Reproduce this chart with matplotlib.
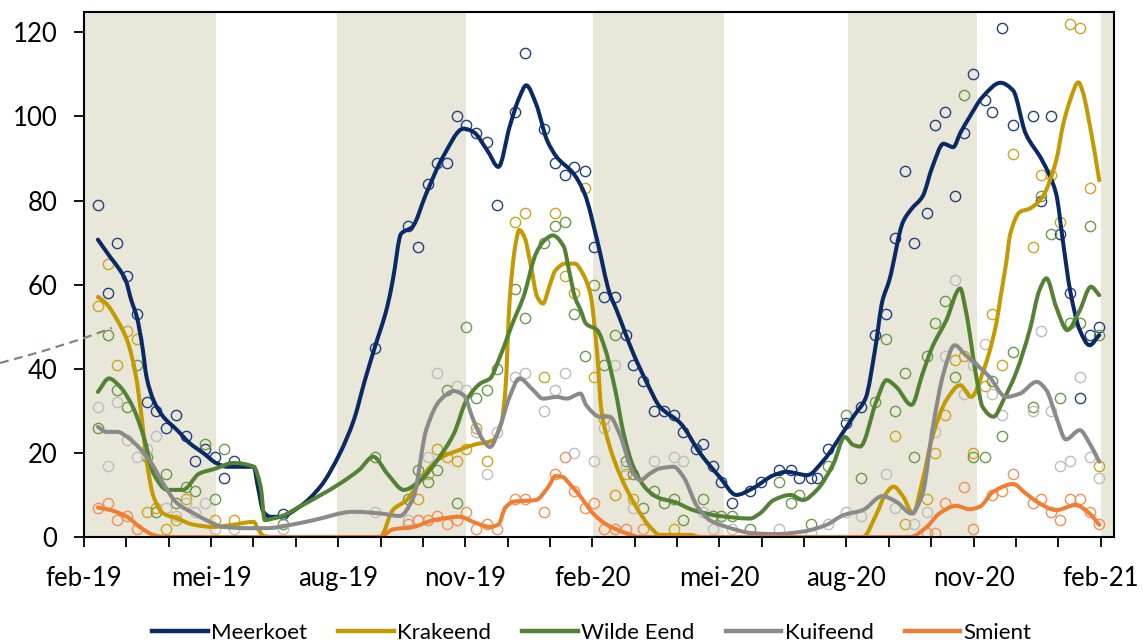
import numpy as np
import pandas as pd
import matplotlib
matplotlib.use('Agg')
import matplotlib.pyplot as plt
import matplotlib.dates as mdates
from matplotlib.lines import Line2D
from matplotlib.path import Path
from matplotlib.patches import PathPatch

plt.rcParams['font.family'] = ['Lato', 'DejaVu Sans']

START = pd.Timestamp('2019-02-01')

### DATA ###

# counting days (days after 1 feb 2019); None = no count shown for that species
sample_days = [10, 17, 24, 31, 38, 45, 52, 59, 66, 73,
               80, 87, 94, 101, 108, 143, 209, 233, 240, 247,
               254, 261, 268, 275, 282, 290, 297, 310, 317, 331,
               339, 346, 352, 360, 367, 374, 382, 390, 395, 402,
               410, 417, 424, 431, 440, 445, 452, 458, 466, 479,
               487, 500, 508, 514, 523, 527, 535, 548, 559, 569,
               577, 583, 590, 597, 606, 612, 619, 626, 633, 639,
               648, 653, 660, 668, 682, 688, 695, 702, 709, 716,
               723, 730]

meerkoet = [79, 58, 70, 62, 53, 32, 30, 26, 29, 24,
            18, 21, 19, 14, 18, 5.5, 45, 74, 69, 84,
            89, 89, 100, 98, 96, 94, 79, 101, 115, 97,
            89, 86, 88, 87, 69, 57, 57, 48, 41, 37,
            30, 30, 29, 25, 21, 22, 17, 13, 8, 11,
            13, 16, 16, 14, 14, 14, 21, 27, 31, 48,
            53, 71, 87, 70, 77, 98, 101, 81, 96, 110,
            104, 101, 121, 98, 100, 80, 100, 72, 58, 33,
            48, 50]

krakeend = [55, 65, 41, 49, 47, 6, 7, 2, 4, 9,
            None, None, 4, None, 4, None, None, None, 9, 15,
            21, 19, 18, 21, 26, 18, None, 75, 77, 38,
            77, 62, 58, 83, 38, 28, 10, 15, 9, None,
            None, None, 2, None, None, None, None, None, None, None,
            None, None, None, None, None, None, None, None, None, None,
            None, 24, 3, None, 9, 20, 29, 42, 43, 20,
            36, 53, 41, 91, 69, 86, 86, 75, 122, 121,
            83, 17]

wilde_eend = [26, 48, 35, 31, 41, 19, 6, 15, 8, 12,
              11, 22, 9, 21, None, 3, 19, 9, 16, 13,
              16, 35, 8, 50, 33, 35, 40, 59, 52, 70,
              74, 75, 53, 43, 60, 41, 48, 18, 15, 7,
              11, 8, 9, 4, None, 9, 5, 5, 5, 2,
              None, 13, 8, 10, 3, None, 17, 29, 14, 32,
              47, 30, 39, 19, 43, 51, 56, 38, 105, 19,
              19, 37, 24, 44, 31, 81, 72, 33, 51, 51,
              74, 48]

kuifeend = [31, 17, 32, 23, 19, 21, 24, 7, 5, 8,
            6, 8, 2, None, 2, 2, 6, 4, 4, 19,
            39, None, 36, 35, 25, 15, 25, 38, 39, 30,
            35, 39, 20, None, 18, 26, 41, 17, 7, None,
            18, None, 19, 18, None, 6, 2, None, 2, None,
            None, 2, None, None, 1, None, 3, 6, 5, None,
            15, 7, None, 3, 6, 25, 43, 61, 34, 41,
            46, 34, 29, None, 30, 49, 30, 17, 18, 38,
            19, 14]

smient = [7, 8, 4, 5, 2, None, None, None, None, None,
          None, None, None, None, None, None, None, 3, 4, 4,
          5, 3, 4, 6, 2, 3, 2, 9, 9, 6,
          15, 19, 11, 7, 8, 2, 2, 2, None, 2,
          None, None, None, None, None, None, None, None, None, None,
          None, None, None, None, None, None, None, None, None, None,
          None, None, None, None, 1, 1, 8, None, 12, 2,
          None, 10, 11, 15, 8, 9, 6, 4, 9, 9,
          6, 3]

# smoothed trend per species as (day, value) nodes
meerkoet_line_days = [10, 19, 26, 30, 34, 38, 42, 45, 50, 57, 67, 76, 86, 95, 103, 112, 122, 125, 129, 134,
                      141, 155, 170, 184, 194, 202, 209, 218, 222, 228, 236, 246, 258, 273, 280, 290, 298, 306, 313, 318,
                      325, 333, 340, 352, 360, 369, 378, 383, 395, 405, 414, 429, 443, 457, 469, 481, 496, 505, 520, 532,
                      546, 554, 562, 569, 574, 579, 589, 595, 603, 610, 618, 625, 630, 637, 646, 659, 668, 677, 689, 699,
                      704, 709, 716, 723, 730]
meerkoet_line = [70.7, 66.5, 63.4, 61, 56.3, 52.3, 45.2, 38, 32.5, 28.6, 25.4, 22.3, 19.9, 17.6, 16.7, 16.7, 16.7, 12, 6, 4.8,
                 4.8, 7.2, 12, 19.9, 27.8, 37.3, 45, 54.7, 61, 72.1, 73.7, 81.6, 90.3, 97.1, 96.3, 91.9, 88, 97.5, 104.5, 107.4,
                 103, 94.3, 90.3, 86.4, 81.6, 70.5, 57.9, 53.9, 43.6, 36.5, 31, 27, 19.9, 14.3, 10, 11.6, 14.7, 15.5, 14.7, 18.3,
                 25, 29, 33, 45, 56, 61, 75, 78, 81, 88, 93.5, 92.7, 96, 100, 104.6, 108, 106.2, 96, 89.5, 81.6,
                 70, 58.7, 49.2, 45.6, 48]

krakeend_line_days = [10, 16, 24, 31, 37, 42, 45, 50, 57, 67, 79, 93, 107, 122, 125, 129, 134, 213, 222, 232,
                      239, 249, 258, 270, 280, 294, 300, 303, 306, 310, 313, 317, 321, 326, 330, 335, 339, 346, 353, 358,
                      364, 369, 372, 376, 385, 397, 407, 414, 436, 443, 560, 570, 576, 582, 589, 596, 603, 610, 620, 630,
                      638, 646, 656, 659, 663, 666, 673, 680, 689, 699, 704, 709, 715, 718, 723, 730]
krakeend_line = [57.1, 55.5, 51.5, 46.8, 38.9, 27, 18.3, 9.6, 5.6, 4.4, 2.9, 2.4, 2.9, 3.6, 2, 0.3, 0, 0, 6.4, 8.8,
                 12, 16.7, 19.1, 20.7, 21.9, 23, 27, 35, 56, 69, 73, 71, 65, 57, 55.5, 60, 63.4, 65, 65, 63,
                 57.9, 43.6, 30.2, 23.8, 15.1, 7.2, 2.4, 0.5, 0.5, 0, 0, 5.6, 10, 12, 9.6, 5.6, 13.5, 23.8, 32.5, 36.1,
                 33.3, 38.9, 50.8, 57, 65, 72, 77.3, 78.1, 80.8, 89.5, 98, 103.8, 108.1, 106, 98.3, 84.8]

wilde_eend_line_days = [10, 18, 26, 35, 43, 50, 60, 71, 83, 95, 107, 122, 127, 130, 136, 141, 155, 184, 198, 208,
                        218, 230, 242, 254, 266, 275, 285, 292, 299, 309, 316, 325, 331, 337, 345, 349, 353, 357, 361, 369,
                        375, 382, 388, 395, 405, 414, 424, 438, 457, 479, 486, 496, 508, 517, 527, 539, 547, 553, 558, 570,
                        577, 584, 595, 603, 610, 620, 630, 634, 642, 646, 654, 661, 670, 680, 687, 692, 699, 707, 716, 724,
                        730]
wilde_eend_line = [34.5, 37.7, 35.7, 31, 23.8, 15.1, 11.2, 11.2, 15.1, 16.3, 17.6, 16.7, 12, 4, 4.4, 4.8, 7.2, 12.7, 16, 19.1,
                   15.1, 11.2, 13.5, 18.3, 24.6, 32.5, 36.5, 37.7, 42.8, 51.5, 57.1, 67.4, 70.5, 71.7, 69, 63, 57, 54, 50.7, 49.2,
                   44.4, 34.9, 24.6, 16.7, 11.2, 9.2, 8.4, 6.4, 5, 4.4, 5.6, 8.8, 10, 8.8, 11.2, 17.5, 23.8, 21.9, 21.5, 32.5,
                   37.3, 35.7, 31.4, 38.9, 45.2, 51.5, 59.1, 53.9, 37.3, 31, 28.6, 32.5, 38.9, 49.2, 58.7, 61.5, 54.7, 49.2, 53.9, 59.5,
                   57.5]

kuifeend_line_days = [10, 16, 24, 31, 40, 47, 57, 67, 79, 88, 100, 117, 131, 155, 165, 194, 213, 227, 237, 246,
                      256, 266, 273, 280, 287, 292, 299, 306, 313, 323, 330, 340, 347, 357, 361, 371, 378, 385, 395, 400,
                      407, 414, 424, 431, 441, 450, 462, 481, 498, 517, 534, 546, 560, 574, 584, 595, 603, 610, 618, 626,
                      634, 642, 651, 663, 673, 685, 692, 699, 706, 716, 723, 730]
kuifeend_line = [26.2, 25, 25, 23.8, 21.1, 18.3, 12.7, 8, 5.6, 4, 2.4, 2.1, 2.1, 3.3, 4, 6, 5.6, 5, 9.6, 25.4,
                 32.5, 34.7, 33.7, 27.8, 23, 21.4, 26.2, 33.3, 37.7, 34.9, 32.9, 33.3, 32.9, 34.1, 31.4, 28.6, 28.6, 24.6, 15.1, 13.5,
                 15.1, 16.3, 16.7, 14.3, 7.2, 4, 2.4, 0.9, 0.7, 1.3, 2.9, 5.2, 6.4, 9.7, 8.4, 5.6, 10.4, 25.4, 38.9, 45.6,
                 43.2, 40.9, 38.1, 33.3, 34.1, 36.9, 34.9, 28.6, 23.2, 25.4, 22.3, 17.9]

smient_line_days = [10, 19, 31, 40, 50, 58, 213, 222, 237, 251, 270, 282, 292, 298, 303, 309, 325, 334, 339, 344,
                    349, 357, 366, 376, 390, 400, 594, 606, 615, 627, 637, 644, 654, 668, 677, 687, 699, 713, 723, 730]
smient_line = [7, 6.4, 4.8, 2.4, 0.5, 0, 0, 1.8, 2.4, 4, 4.8, 3.3, 2.4, 3, 7, 8.4, 8.8, 12, 14.5, 14.3,
               12.7, 9.6, 5.6, 2.9, 0.9, 0, 0, 2.4, 5.6, 7.4, 6.6, 7.2, 10.8, 12.6, 10.4, 8, 6.4, 7.6, 5.6, 2.9]

species = ['Meerkoet', 'Krakeend', 'Wilde Eend', 'Kuifeend', 'Smient']
tick_labels = ['feb-19', 'mei-19', 'aug-19', 'nov-19', 'feb-20', 'mei-20', 'aug-20', 'nov-20', 'feb-21']
shade_periods = [('2019-01-15', '2019-05-07'), ('2019-08-02', '2019-11-03'),
                 ('2020-02-02', '2020-05-06'), ('2020-08-03', '2020-11-04'),
                 ('2021-02-01', '2021-03-01')]

### STYLE ###

line_colors = ['#0a2a66', '#c39a00', '#548235', '#8a8a8a', '#ef7d32']
point_colors = ['#23407e', '#cfa420', '#6a9a48', '#bdbdbd', '#f29057']
shade_color = '#e9e6da'


def to_dates(days):
    return START + pd.to_timedelta(np.asarray(days, dtype=float), unit='D')


def to_values(vals):
    return np.array([np.nan if v is None else v for v in vals], dtype=float)


def smooth_path(x, y):
    # smoothed line through the nodes (cubic bezier with monotone hermite tangents)
    x = np.asarray(x, dtype=float)
    y = np.asarray(y, dtype=float)
    h = np.diff(x)
    delta = np.diff(y) / h
    m = np.zeros_like(y)
    m[0], m[-1] = delta[0], delta[-1]
    for k in range(1, len(x) - 1):
        if delta[k - 1] * delta[k] > 0:
            w1 = 2 * h[k] + h[k - 1]
            w2 = h[k] + 2 * h[k - 1]
            m[k] = (w1 + w2) / (w1 / delta[k - 1] + w2 / delta[k])
    verts = [(x[0], y[0])]
    codes = [Path.MOVETO]
    for k in range(len(x) - 1):
        verts += [(x[k] + h[k] / 3, y[k] + m[k] * h[k] / 3),
                  (x[k + 1] - h[k] / 3, y[k + 1] - m[k + 1] * h[k] / 3),
                  (x[k + 1], y[k + 1])]
        codes += [Path.CURVE4] * 3
    return Path(verts, codes)


counts = [meerkoet, krakeend, wilde_eend, kuifeend, smient]
lines = [(meerkoet_line_days, meerkoet_line), (krakeend_line_days, krakeend_line),
         (wilde_eend_line_days, wilde_eend_line), (kuifeend_line_days, kuifeend_line),
         (smient_line_days, smient_line)]

W, H = 1143, 642
fig = plt.figure(figsize=(W / 100, H / 100), dpi=100)
ax = fig.add_axes([84 / W, 1 - 537 / H, (1114 - 84) / W, (537 - 11.7) / H])

for a, b in shade_periods:
    ax.axvspan(pd.Timestamp(a), pd.Timestamp(b), color=shade_color, lw=0, zorder=0)

x_pts = to_dates(sample_days)
for vals, col in zip(counts, point_colors):
    ax.plot(x_pts, to_values(vals), 'o', ms=7.4, mfc='none', mec=col, mew=1.0, zorder=2)

for i, ((d, v), col) in enumerate(zip(lines, line_colors)):
    p = smooth_path(mdates.date2num(to_dates(d)), v)
    ax.add_patch(PathPatch(p, fill=False, edgecolor=col, lw=2.9, joinstyle='round',
                           capstyle='round', zorder=3 + i * 0.1))

ax.set_xlim(START, START + pd.Timedelta(days=740.6))
ax.set_ylim(0, 124.9)
ax.set_yticks(np.arange(0, 121, 20))

month_step = 731 / 24
ticks = [START + pd.Timedelta(days=k * month_step) for k in range(25)]
ax.set_xticks(ticks)
ax.set_xticklabels([tick_labels[k // 3] if k % 3 == 0 else '' for k in range(25)])

ax.tick_params(axis='both', direction='out', length=7, width=1.3, color='black',
               labelsize=18.5, labelcolor='black')
ax.tick_params(axis='y', pad=12)
ax.tick_params(axis='x', pad=14)
for s in ax.spines.values():
    s.set_linewidth(1.5)
    s.set_color('black')
    s.set_zorder(5)

# stray dashed connector sticking in from the left edge
fig.add_artist(Line2D(np.array([0, 40, 80, 112]) / W, 1 - np.array([363, 352, 339.5, 328]) / H,
                      transform=fig.transFigure, color='#8c8273', lw=1.6, ls=(0, (4, 2.5))))

handles = [Line2D([], [], color=c, lw=3.2) for c in line_colors]
fig.legend(handles, species, loc='center', bbox_to_anchor=(592 / W, 1 - 633 / H), ncol=5,
           frameon=False, fontsize=16, handlelength=2.5, handletextpad=0.15, columnspacing=1.4)

plt.savefig('out.png', dpi=100)
plt.close()
